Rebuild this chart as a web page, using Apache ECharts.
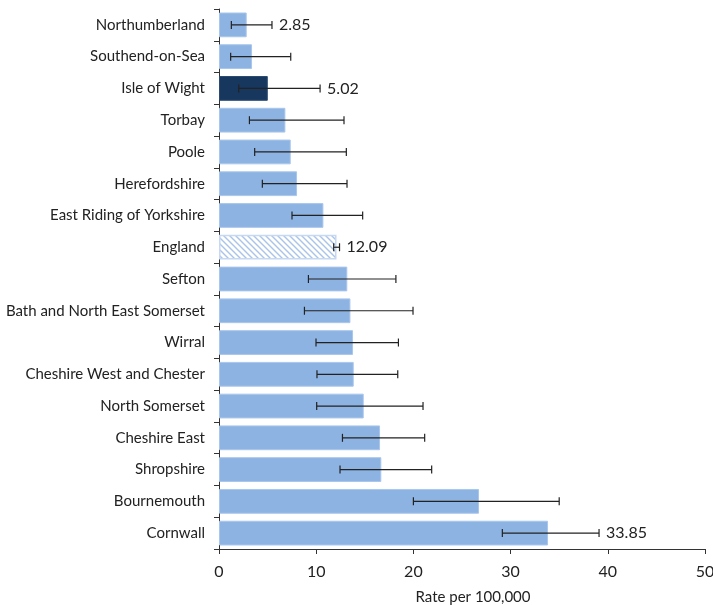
<!DOCTYPE html>
<html>
<head>
<meta charset="utf-8">
<script src="https://cdn.jsdelivr.net/npm/echarts@6/dist/echarts.min.js"></script>
<style>html,body{margin:0;padding:0;background:#fff;overflow:hidden;}#c{width:713px;height:605px;}</style>
</head>
<body>
<div id="c"></div>
<script>
const categories = ['Northumberland','Southend-on-Sea','Isle of Wight','Torbay','Poole','Herefordshire','East Riding of Yorkshire','England','Sefton','Bath and North East Somerset','Wirral','Cheshire West and Chester','North Somerset','Cheshire East','Shropshire','Bournemouth','Cornwall'];
const values = [2.85, 3.40, 5.02, 6.83, 7.38, 8.03, 10.74, 12.09, 13.20, 13.52, 13.79, 13.86, 14.89, 16.57, 16.70, 26.75, 33.85];
const lower  = [1.27, 1.20, 2.03, 3.13, 3.67, 4.46, 7.51, 11.80, 9.20, 8.79, 9.98, 10.08, 10.05, 12.70, 12.45, 20.00, 29.15];
const upper  = [5.45, 7.38, 10.40, 12.86, 13.10, 13.17, 14.78, 12.40, 18.20, 19.96, 18.46, 18.39, 20.99, 21.16, 21.88, 35.00, 39.10];
const labels = ['2.85','','5.02','','','','','12.09','','','','','','','','','33.85'];
const xTicks = [0, 10, 20, 30, 40, 50];

const FONT = 'Lato';
const BAR = '#8DB3E2';
const DARK = '#17375E';

// hatch pattern for England
const pc = document.createElement('canvas');
pc.width = 6; pc.height = 6;
const px = pc.getContext('2d');
px.fillStyle = '#ffffff'; px.fillRect(0,0,6,6);
px.strokeStyle = '#A9C4E8'; px.lineWidth = 1.4;
px.beginPath();
px.moveTo(-1,-1); px.lineTo(7,7);
px.moveTo(-1,5); px.lineTo(1,7);
px.moveTo(5,-1); px.lineTo(7,1);
px.stroke();

const barData = values.map((v, i) => {
  const d = { value: v };
  if (categories[i] === 'Isle of Wight') d.itemStyle = { color: DARK, borderColor: '#2a4a72' };
  if (categories[i] === 'England') d.itemStyle = { color: { image: pc, repeat: 'repeat' }, borderColor: '#C6D9F1', borderWidth: 1.5 };
  return d;
});
const errData = categories.map((c, i) => [lower[i], upper[i], i, labels[i]]);

const chart = echarts.init(document.getElementById('c'), null, { renderer: 'canvas' });
chart.setOption({
  animation: false,
  backgroundColor: '#fff',
  grid: { left: 219, right: 8, top: 9, bottom: 56, containLabel: false, outerBoundsMode: 'none' },
  xAxis: {
    type: 'value', min: xTicks[0], max: xTicks[xTicks.length - 1], interval: 10,
    name: 'Rate per 100,000', nameLocation: 'middle', nameGap: 41,
    nameTextStyle: { fontFamily: FONT, fontSize: 15, color: '#222', padding: [0, 0, 0, 22] },
    axisLine: { show: true, lineStyle: { color: '#333', width: 1 } },
    axisTick: { show: true, length: 5, lineStyle: { color: '#333' } },
    axisLabel: { fontFamily: FONT, fontSize: 16, color: '#222', margin: 15 },
    splitLine: { show: false }
  },
  yAxis: {
    type: 'category', data: categories, inverse: true,
    axisLine: { show: true, lineStyle: { color: '#333', width: 1 } },
    axisTick: { show: true, length: 5, lineStyle: { color: '#333' } },
    axisLabel: { fontFamily: FONT, fontSize: 15, color: '#222', margin: 14 },
    splitLine: { show: false }
  },
  series: [
    {
      type: 'bar', data: barData, barCategoryGap: '22%',
      itemStyle: { color: BAR, borderColor: '#A9C6EC', borderWidth: 1 }
    },
    {
      type: 'custom', data: errData, z: 5,
      encode: { x: [0, 1], y: 2 },
      renderItem: function (params, api) {
        const lo = api.coord([api.value(0), api.value(2)]);
        const hi = api.coord([api.value(1), api.value(2)]);
        const y = lo[1];
        const cap = 4;
        const style = { stroke: '#222', lineWidth: 1.2 };
        const children = [
          { type: 'line', shape: { x1: lo[0], y1: y, x2: hi[0], y2: y }, style: style },
          { type: 'line', shape: { x1: lo[0], y1: y - cap, x2: lo[0], y2: y + cap }, style: style },
          { type: 'line', shape: { x1: hi[0], y1: y - cap, x2: hi[0], y2: y + cap }, style: style }
        ];
        const lab = labels[params.dataIndex];
        if (lab) {
          children.push({ type: 'text', style: { text: lab, x: hi[0] + 7, y: y, verticalAlign: 'middle', align: 'left', font: '16px ' + FONT, fill: '#222' } });
        }
        return { type: 'group', children: children };
      }
    }
  ]
});
</script>
</body>
</html>
